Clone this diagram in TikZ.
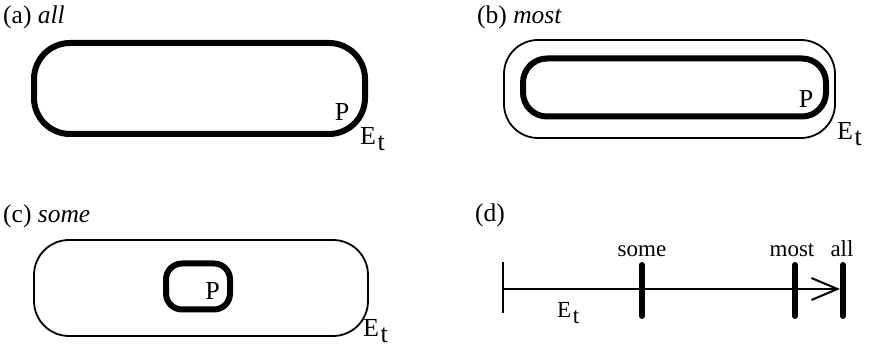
\documentclass[tikz,border=0pt]{standalone}
\usepackage{fontspec}
\setmainfont{Liberation Serif}
\usetikzlibrary{arrows.meta}
\newcommand{\EtLabel}{E\hspace{1.5pt}\raisebox{-5.5pt}{t}}
\begin{document}
\begin{tikzpicture}[x=1pt,y=-1pt,
  boldline/.style={line width=6pt},
  thinline/.style={line width=1.8pt},
  paneltitle/.style={font=\fontsize{25.5}{27}\selectfont, inner sep=0pt, anchor=base west},
  ptxt/.style={font=\fontsize{26}{28}\selectfont, inner sep=0pt, anchor=base},
  ettxt/.style={font=\fontsize{26}{28}\selectfont, inner sep=0pt, anchor=base west},
  scaletxt/.style={font=\fontsize{23}{25}\selectfont, inner sep=0pt, anchor=base},
  boldtick/.style={line width=6pt, line cap=round},
]
\useasboundingbox (0,0) rectangle (870,347);

% (a)
\node[paneltitle] (ta) at (3,24) {(a) \textit{all}};
\draw[boldline, rounded corners=36pt] (34,43) rectangle (365,134);
\node[ptxt] (pa) at (342,121) {P};
\node[ettxt] (ea) at (360,145) {\EtLabel};

% (b)
\node[paneltitle] (tb) at (477,24) {(b) \textit{most}};
\draw[thinline, rounded corners=34pt] (504,40) rectangle (835,138);
\draw[boldline, rounded corners=24pt] (523,58.5) rectangle (826,116.5);
\node[ptxt] (pb) at (806,108) {P};
\node[ettxt] (eb) at (837,140) {\EtLabel};

% (c)
\node[paneltitle] (tc) at (3,223) {(c) \textit{some}};
\draw[thinline, rounded corners=35pt] (34,240) rectangle (368,336);
\draw[boldline, rounded corners=16pt] (166,263.5) rectangle (230,309.5);
\node[ptxt] (pc) at (212.5,300) {P};
\node[ettxt] (ec) at (363,337) {\EtLabel};

% (d)
\node[paneltitle] (td) at (475,222) {(d)};
\coordinate (d0) at (503,289);
\coordinate (d0t) at (503,262);
\coordinate (d0b) at (503,313);
\coordinate (dsomet) at (642,265);
\coordinate (dsomeb) at (642,316);
\coordinate (dmostt) at (795,265);
\coordinate (dmostb) at (795,316);
\coordinate (dallt) at (843,265);
\coordinate (dallb) at (843,316);
\coordinate (dall) at (840,289);
\draw[thinline] (d0t) -- (d0b);
\draw[thinline, -{Straight Barb[length=26pt, width=22pt, line width=2pt]}] (d0) -- (dall);
\draw[boldtick] (dsomet) -- (dsomeb);
\draw[boldtick] (dmostt) -- (dmostb);
\draw[boldtick] (dallt) -- (dallb);
\node[scaletxt] (lsome) at (642,257) {some};
\node[scaletxt] (lmost) at (792,257) {most};
\node[scaletxt] (lall) at (842,257) {all};
\node[ettxt, font=\fontsize{23}{25}\selectfont] (ed) at (557,318) {\EtLabel};
\end{tikzpicture}
\end{document}
